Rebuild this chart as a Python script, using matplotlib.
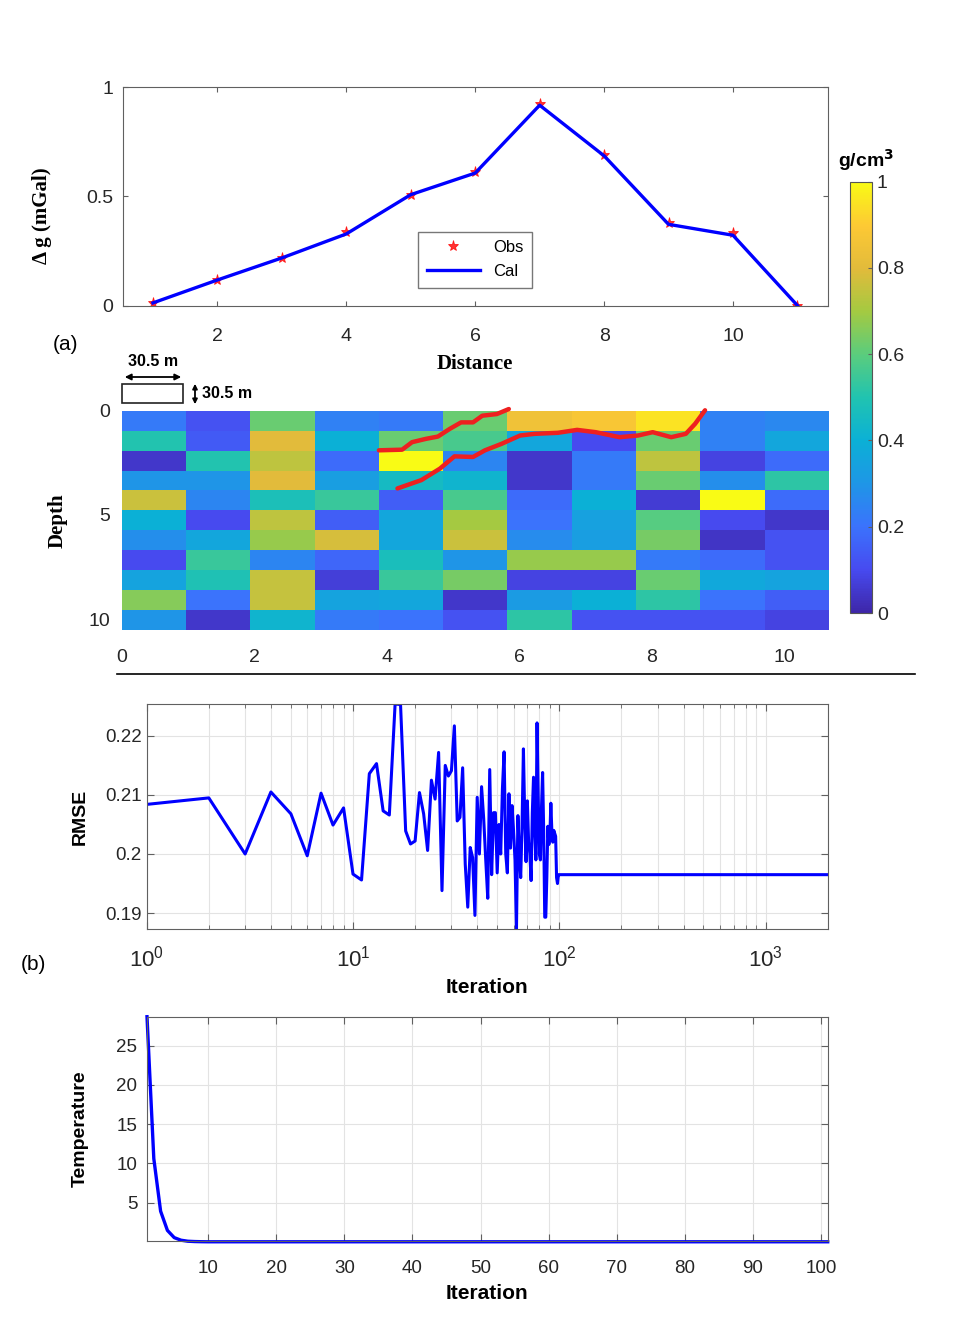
#%% Import library
import numpy as np
import matplotlib
matplotlib.use('Agg')
import matplotlib.pyplot as plt
from matplotlib.colors import LinearSegmentedColormap
from matplotlib.patches import Rectangle, FancyArrowPatch
from matplotlib.lines import Line2D
from matplotlib.ticker import LogLocator, NullFormatter

#%% chart style
plt.rcParams['font.family'] = ['Liberation Sans', 'DejaVu Sans']
plt.rcParams['xtick.direction'] = 'in'
plt.rcParams['ytick.direction'] = 'in'
plt.rcParams['xtick.top'] = True
plt.rcParams['ytick.right'] = True
plt.rcParams['axes.edgecolor'] = '#606060'
plt.rcParams['xtick.color'] = '#606060'
plt.rcParams['ytick.color'] = '#606060'
plt.rcParams['xtick.labelcolor'] = '#262626'
plt.rcParams['ytick.labelcolor'] = '#262626'
plt.rcParams['font.size'] = 13.5

#%% Data
# (a) gravity profile
distance = [1, 2, 3, 4, 5, 6, 7, 8, 9, 10, 11]
g_obs = [0.012, 0.119, 0.218, 0.335, 0.505, 0.61, 0.924, 0.69, 0.378, 0.332, 0.0]
g_cal = [0.012, 0.117, 0.218, 0.328, 0.508, 0.607, 0.918, 0.686, 0.372, 0.322, 0.0]

# density model (rows = depth, top to bottom)
density = [
    [0.22, 0.12, 0.62, 0.24, 0.22, 0.62, 0.85, 0.88, 0.95, 0.24, 0.26],
    [0.50, 0.14, 0.80, 0.40, 0.62, 0.57, 0.36, 0.10, 0.62, 0.24, 0.36],
    [0.05, 0.50, 0.74, 0.18, 1.00, 0.25, 0.05, 0.22, 0.74, 0.08, 0.18],
    [0.30, 0.30, 0.80, 0.33, 0.45, 0.42, 0.05, 0.22, 0.62, 0.28, 0.52],
    [0.76, 0.25, 0.48, 0.54, 0.15, 0.57, 0.18, 0.40, 0.06, 1.00, 0.18],
    [0.40, 0.10, 0.74, 0.15, 0.36, 0.70, 0.20, 0.34, 0.59, 0.10, 0.05],
    [0.28, 0.36, 0.68, 0.78, 0.36, 0.76, 0.27, 0.33, 0.64, 0.04, 0.12],
    [0.10, 0.54, 0.25, 0.17, 0.47, 0.30, 0.68, 0.68, 0.22, 0.18, 0.12],
    [0.35, 0.49, 0.75, 0.07, 0.54, 0.64, 0.08, 0.08, 0.62, 0.37, 0.35],
    [0.66, 0.20, 0.75, 0.35, 0.36, 0.05, 0.32, 0.40, 0.52, 0.20, 0.15],
    [0.30, 0.05, 0.42, 0.22, 0.20, 0.12, 0.52, 0.12, 0.12, 0.12, 0.08],
]
model_width = 10.67
model_depth = 10.52

# red outline of the body
upper_x = [3.88, 4.23, 4.38, 4.59, 4.77, 4.95, 5.12, 5.30, 5.44, 5.66, 5.84]
upper_y = [1.90, 1.87, 1.51, 1.35, 1.24, 0.87, 0.56, 0.56, 0.24, 0.16, -0.08]
lower_x = [4.16, 4.52, 4.80, 5.02, 5.30, 5.48, 5.73, 6.01, 6.23, 6.58, 6.87,
           7.15, 7.51, 7.79, 8.01, 8.29, 8.51, 8.65, 8.80]
lower_y = [3.73, 3.33, 2.78, 2.19, 2.22, 1.90, 1.59, 1.19, 1.11, 1.06, 0.92,
           1.03, 1.27, 1.19, 1.03, 1.27, 1.11, 0.63, -0.02]

# (b) RMSE history
rmse_iter = list(range(1, 101)) + [2000]
rmse_val = [
    0.2084, 0.2095, 0.2000, 0.2105, 0.2068, 0.1997, 0.2103, 0.2049, 0.2078, 0.1966,
    0.1956, 0.2136, 0.2153, 0.2073, 0.2066, 0.2254, 0.2253, 0.2039, 0.2017, 0.2022,
    0.2104, 0.2068, 0.2006, 0.2125, 0.2093, 0.2172, 0.1938, 0.2150, 0.2132, 0.2141,
    0.2217, 0.2056, 0.2062, 0.2146, 0.1983, 0.1910, 0.2011, 0.1994, 0.1896, 0.2096,
    0.2000, 0.2114, 0.2060, 0.1990, 0.1925, 0.2143, 0.1965, 0.2070, 0.2070, 0.1968,
    0.2050, 0.2000, 0.2110, 0.2173, 0.2000, 0.1968, 0.2102, 0.2010, 0.2082, 0.2040,
    0.1990, 0.1872, 0.2065, 0.2000, 0.1960, 0.2050, 0.2178, 0.2060, 0.1987, 0.2090,
    0.2020, 0.2000, 0.1955, 0.2070, 0.2130, 0.2040, 0.1990, 0.2222, 0.2100, 0.2000,
    0.1990, 0.2080, 0.2138, 0.2040, 0.1893, 0.1893, 0.1960, 0.2047, 0.2016, 0.2030,
    0.2086, 0.2040, 0.2020, 0.2040, 0.2035, 0.2030, 0.1960, 0.1950, 0.1965, 0.1965,
    0.1965,
]

# temperature schedule
temp_iter = [1, 2, 3, 4, 5, 6, 7, 8, 9, 10, 101]
temp_val = [28.7, 10.6, 3.9, 1.45, 0.53, 0.2, 0.07, 0.03, 0.01, 0.0, 0.0]

#%% parula-like colormap
parula = LinearSegmentedColormap.from_list('parula', [
    (0.2422, 0.1504, 0.6603), (0.2783, 0.2926, 0.9423), (0.2300, 0.4500, 0.9900),
    (0.1185, 0.5885, 0.9030), (0.0450, 0.6919, 0.8373), (0.1281, 0.7654, 0.6900),
    (0.3555, 0.8014, 0.4884), (0.6432, 0.7906, 0.2552), (0.8868, 0.7328, 0.2313),
    (0.9929, 0.7877, 0.2051), (0.9769, 0.9839, 0.0805)])

W, H = 962, 1336
def box(left, top, right, bottom):
    return [left / W, 1 - bottom / H, (right - left) / W, (bottom - top) / H]

fig = plt.figure(figsize=(W / 100, H / 100), dpi=100)
serif = dict(family='Liberation Serif', fontweight='bold', fontsize=15)

#%% (a) gravity profile
ax1 = fig.add_axes(box(122.7, 87.3, 827.7, 305.5))
ax1.plot(distance, g_obs, 'r*', markersize=8, markeredgewidth=0.6, alpha=0.8, label='Obs')
ax1.plot(distance, g_cal, color='blue', linewidth=2.4, label='Cal')
ax1.set_xlim(0.53, 11.47)
ax1.set_ylim(0, 1)
ax1.set_xticks([2, 4, 6, 8, 10])
ax1.set_yticks([0, 0.5, 1])
ax1.set_yticklabels(['0', '0.5', '1'])
ax1.tick_params(labelsize=14, pad=7)
ax1.tick_params(axis='x', pad=16)
ax1.set_ylabel('Δ g (mGal)', **serif)
ax1.yaxis.set_label_coords(-0.10, 0.41)
ax1.set_xlabel('Distance', **serif)
ax1.xaxis.set_label_coords(0.5, -0.27)
ax1.xaxis.label.set_va('center')
leg = ax1.legend(loc='center', bbox_to_anchor=(0.5, 0.21),
                 fancybox=False, edgecolor='#555555', fontsize=12, handlelength=3.2,
                 borderpad=0.5, labelspacing=0.55)
leg.get_frame().set_linewidth(1.0)

#%% density model
ax2 = fig.add_axes(box(121.7, 410.7, 829, 630))
ncol = len(density[0])
nrow = len(density)
x_edges = np.linspace(0, model_width, ncol + 1)
z_edges = np.linspace(0, model_depth, nrow + 1)
mesh = ax2.pcolormesh(x_edges, z_edges, np.array(density), cmap=parula, vmin=0, vmax=1)
ax2.plot(upper_x, upper_y, color='#ee2020', linewidth=3.2, clip_on=False, solid_capstyle='round')
ax2.plot(lower_x, lower_y, color='#ee2020', linewidth=3.2, clip_on=False, solid_capstyle='round')
ax2.set_xlim(0, model_width)
ax2.set_ylim(model_depth, 0)
ax2.set_xticks([0, 2, 4, 6, 8, 10])
ax2.set_yticks([0, 5, 10])
ax2.tick_params(length=0, pad=8, labelsize=14)
ax2.tick_params(axis='x', pad=14)
for s in ax2.spines.values():
    s.set_visible(False)
ax2.set_ylabel('Depth', **serif)
ax2.yaxis.set_label_coords(-0.076, 0.5)

cax = fig.add_axes(box(850, 181.7, 872, 613))
cb = fig.colorbar(mesh, cax=cax, ticks=[0, 0.2, 0.4, 0.6, 0.8, 1])
cb.ax.set_yticklabels(['0', '0.2', '0.4', '0.6', '0.8', '1'])
cb.ax.tick_params(direction='in', length=3, labelsize=14)
cb.outline.set_edgecolor('#555555')
fig.text(866 / W, 1 - 160 / H, 'g/cm$^\\mathbf{3}$', ha='center', va='center',
         fontsize=14, fontweight='bold')

# cell size sketch
fig.text(65 / W, 1 - 345 / H, '(a)', ha='center', va='center', fontsize=15)
fig.add_artist(Rectangle((122 / W, 1 - 403 / H), 61 / W, 19 / H, transform=fig.transFigure,
                         fill=False, edgecolor='#222222', linewidth=1.2))
fig.add_artist(FancyArrowPatch((122 / W, 1 - 377 / H), (184 / W, 1 - 377 / H),
                               transform=fig.transFigure, arrowstyle='<|-|>',
                               mutation_scale=9, color='black', linewidth=1.3))
fig.add_artist(FancyArrowPatch((195 / W, 1 - 381 / H), (195 / W, 1 - 407 / H),
                               transform=fig.transFigure, arrowstyle='<|-|>',
                               mutation_scale=7, color='black', linewidth=1.3))
fig.text(153 / W, 1 - 361 / H, '30.5 m', ha='center', va='center', fontsize=11.5, fontweight='bold')
fig.text(202 / W, 1 - 394 / H, '30.5 m', ha='left', va='center', fontsize=11.5, fontweight='bold')

# separator
fig.add_artist(Line2D([117 / W, 915 / W], [1 - 674 / H, 1 - 674 / H],
                      transform=fig.transFigure, color='black', linewidth=1.2))

#%% (b) RMSE
ax3 = fig.add_axes(box(146.7, 704, 827.7, 929))
ax3.plot(rmse_iter, rmse_val, color='blue', linewidth=2.2)
ax3.set_xscale('log')
ax3.set_xlim(1, 2000)
ax3.set_ylim(0.1873, 0.2254)
ax3.set_yticks([0.19, 0.2, 0.21, 0.22])
ax3.set_yticklabels(['0.19', '0.2', '0.21', '0.22'])
ax3.xaxis.set_minor_locator(LogLocator(base=10, subs=np.arange(2, 10)))
ax3.xaxis.set_minor_formatter(NullFormatter())
ax3.grid(True, which='both', color='#e3e3e3', linewidth=0.8)
ax3.tick_params(which='major', length=5)
ax3.tick_params(which='minor', length=3)
ax3.tick_params(axis='x', pad=12, labelsize=16)
ax3.set_ylabel('RMSE', fontsize=14, fontweight='bold')
ax3.yaxis.set_label_coords(-0.085, 0.5)
ax3.set_xlabel('Iteration', fontsize=15, fontweight='bold')
ax3.xaxis.set_label_coords(0.5, -0.26)
ax3.xaxis.label.set_va('center')
fig.text(33 / W, 1 - 965 / H, '(b)', ha='center', va='center', fontsize=15)

#%% temperature
ax4 = fig.add_axes(box(147, 1016.7, 827.7, 1241))
ax4.plot(temp_iter, temp_val, color='blue', linewidth=2.4, clip_on=False)
ax4.set_xlim(1, 101)
ax4.set_ylim(0.1, 28.7)
ax4.set_xticks([10, 20, 30, 40, 50, 60, 70, 80, 90, 100])
ax4.set_yticks([5, 10, 15, 20, 25])
ax4.grid(True, color='#e3e3e3', linewidth=0.8)
ax4.tick_params(length=5, pad=7)
ax4.tick_params(axis='x', pad=14)
ax4.set_ylabel('Temperature', fontsize=14, fontweight='bold')
ax4.yaxis.set_label_coords(-0.085, 0.5)
ax4.set_xlabel('Iteration', fontsize=15, fontweight='bold')
ax4.xaxis.set_label_coords(0.5, -0.232)
ax4.xaxis.label.set_va('center')

fig.savefig('out.png', dpi=100)
